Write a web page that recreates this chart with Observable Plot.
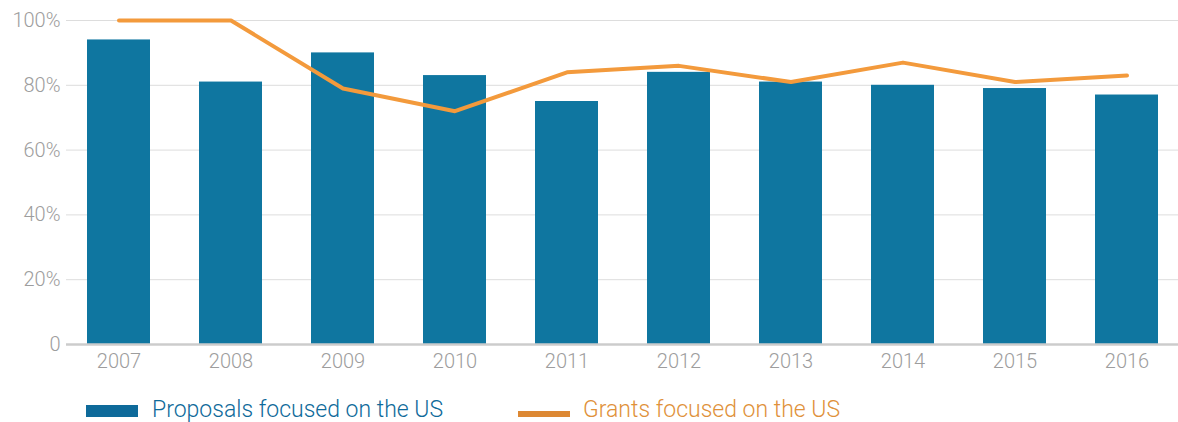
<!DOCTYPE html>
<html><head><meta charset="utf-8">
<script src="https://cdn.jsdelivr.net/npm/d3@7"></script>
<script src="https://cdn.jsdelivr.net/npm/@observablehq/plot@0.6"></script>
<style>
body{margin:0;background:#fff;font-family:Roboto,"Helvetica Neue","Liberation Sans",sans-serif;}
#wrap{position:relative;width:1178px;height:422px;}
.lt{position:absolute;top:398px;font-size:23px;line-height:23px;font-weight:300;white-space:nowrap;}
.sw{position:absolute;}
</style></head>
<body><div id="wrap"><div id="chart"></div>
<span class="sw" style="left:86px;top:405px;width:52px;height:12px;background:#0e6a9a"></span>
<span class="lt" style="left:152px;color:#0e6a9a">Proposals focused on the US</span>
<span class="sw" style="left:518px;top:411px;width:52px;height:6px;background:#dd8833"></span>
<span class="lt" style="left:583px;color:#e0913a">Grants focused on the US</span>
</div>
<script>
const years = ["2007","2008","2009","2010","2011","2012","2013","2014","2015","2016"];
const proposals = [94, 81, 90, 83, 75, 84, 81, 80, 79, 77];
const grants = [100, 100, 79, 72, 84, 86, 81, 87, 81, 83];
const yTicks = [0, 20, 40, 60, 80, 100];

const data = years.map((y, i) => ({year: y, proposals: proposals[i], grants: grants[i]}));

const chart = Plot.plot({
  width: 1178, height: 380,
  marginLeft: 66, marginRight: 0, marginTop: 20, marginBottom: 36,
  style: {fontFamily: 'Roboto,"Helvetica Neue","Liberation Sans",sans-serif', fontSize: "20px", fontWeight: 300, color: "#9d9d9d"},
  x: {domain: years, paddingInner: 0.4375, paddingOuter: 0.17, label: null},
  y: {domain: [0, 100], label: null},
  marks: [
    Plot.ruleY(yTicks.filter(d => d > 0), {stroke: "#ddd", strokeWidth: 1}),
    Plot.barY(data, {x: "year", y: "proposals", fill: "#0f76a0"}),
    Plot.ruleY([0], {stroke: "#ccc", strokeWidth: 2.5}),
    Plot.line(data, {x: "year", y: "grants", stroke: "#f39a3c", strokeWidth: 4}),
    Plot.axisX({tickSize: 0, tickPadding: 9, fill: "#9d9d9d", label: null}),
    Plot.axisY({ticks: yTicks, tickSize: 0, tickPadding: 6, fill: "#9d9d9d", label: null, tickFormat: d => d === 0 ? "0" : d + "%"})
  ]
});
document.getElementById("chart").appendChild(chart);
</script></body></html>
